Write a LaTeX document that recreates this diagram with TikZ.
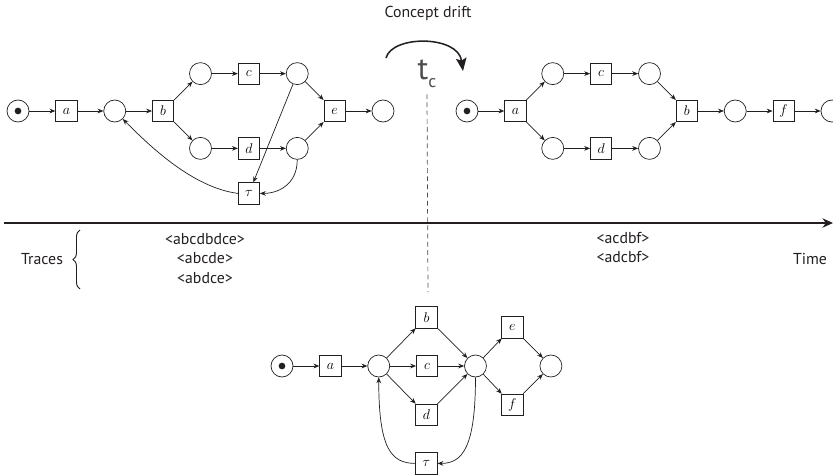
\documentclass[tikz,border=0pt]{standalone}
\usepackage{amsmath}
\usepackage{fontspec}
\newfontfamily\driftfont{PT Sans}
\usepackage{tikz}
\usetikzlibrary{arrows.meta}
\usetikzlibrary{positioning}
\usetikzlibrary{decorations.pathreplacing}

\definecolor{inkgray}{HTML}{231F20}
\definecolor{tcgray}{HTML}{4D4D4F}

\tikzset{
  place/.style={draw=inkgray,circle,minimum size=0.66cm,inner sep=0pt,line width=0.6pt},
  marked/.style={place,path picture={\fill[inkgray] (path picture bounding box.center) circle (0.1cm);}},
  trans/.style={draw=inkgray,rectangle,minimum size=0.64cm,inner sep=0pt,line width=0.6pt,font=\fontsize{12.5}{12.5}\selectfont},
  arc/.style={->,draw=inkgray,line width=0.6pt},
  caption/.style={text=inkgray,inner sep=0pt,font=\driftfont\fontsize{13.5}{17}\selectfont},
}

\begin{document}
\begin{tikzpicture} [x=0.03cm, y=-0.03cm, node distance=0.78cm, >={Stealth[length=5pt,width=4pt]}]
    \clip (0,0) rectangle (833,476);
    \useasboundingbox (0,0) rectangle (833,476);

    % net before the drift
    \node (lp0) [marked] at (18,111) {};
    \node (la) [trans, right = of lp0] {$a$};
    \node (lp1) [place, right = of la] {};
    \node (lb) [trans, right = of lp1] {$b$};
    \node (lp2) [place, above right = 0.55cm and 0.55cm of lb] {};
    \node (lc) [trans, right = of lp2] {$c$};
    \node (lp3) [place, right = of lc] {};
    \node (lp4) [place, below right = 0.55cm and 0.55cm of lb] {};
    \node (ld) [trans, right = of lp4] {$d$};
    \node (lp5) [place, right = of ld] {};
    \node (le) [trans, below right = 0.55cm and 0.55cm of lp3] {$e$};
    \node (lp6) [place, right = of le] {};
    \node (ltau) [trans, below = 0.69cm of ld] {$\tau$};

    \draw [arc] (lp0) -- (la);
    \draw [arc] (la) -- (lp1);
    \draw [arc] (lp1) -- (lb);
    \draw [arc] (lb) -- (lp2);
    \draw [arc] (lb) -- (lp4);
    \draw [arc] (lp2) -- (lc);
    \draw [arc] (lc) -- (lp3);
    \draw [arc] (lp4) -- (ld);
    \draw [arc] (ld) -- (lp5);
    \draw [arc] (lp3) -- (le);
    \draw [arc] (lp5) -- (le);
    \draw [arc] (le) -- (lp6);
    \draw [arc] (lp3) -- (ltau);
    \draw [arc] (lp5.south) .. controls +(0,25) and +(18,0) .. (ltau.east);
    \draw [arc] (ltau.west) .. controls +(-45,-6) and +(28,28) .. (lp1.south east);

    % net after the drift
    \node (rp0) [marked] at (467,111) {};
    \node (ra) [trans, right = of rp0] {$a$};
    \node (rp1) [place, above right = 0.55cm and 0.55cm of ra] {};
    \node (rc) [trans, right = of rp1] {$c$};
    \node (rp2) [place, right = of rc] {};
    \node (rp4) [place, below right = 0.55cm and 0.55cm of ra] {};
    \node (rd) [trans, right = of rp4] {$d$};
    \node (rp5) [place, right = of rd] {};
    \node (rb) [trans, below right = 0.55cm and 0.55cm of rp2] {$b$};
    \node (rp3) [place, right = of rb] {};
    \node (rf) [trans, right = of rp3] {$f$};
    \node (rp6) [place, right = of rf] {};

    \draw [arc] (rp0) -- (ra);
    \draw [arc] (ra) -- (rp1);
    \draw [arc] (ra) -- (rp4);
    \draw [arc] (rp1) -- (rc);
    \draw [arc] (rc) -- (rp2);
    \draw [arc] (rp4) -- (rd);
    \draw [arc] (rd) -- (rp5);
    \draw [arc] (rp2) -- (rb);
    \draw [arc] (rp5) -- (rb);
    \draw [arc] (rb) -- (rp3);
    \draw [arc] (rp3) -- (rf);
    \draw [arc] (rf) -- (rp6);

    % drift point and time line
    \node (drift) [caption] at (428,13) {Concept drift};
    \coordinate (drift-a) at (386,58);
    \coordinate (drift-b) at (463,71);
    \draw [line width=1.3pt, draw=inkgray, -{Stealth[length=11pt,width=9pt,inset=2pt]}]
      (drift-a) .. controls (392,35) and (458,35) .. (drift-b);
    \node (tc) [text=tcgray, inner sep=0pt, font=\driftfont] at (427,74)
      {\fontsize{27}{27}\selectfont t\raisebox{-7pt}{\fontsize{15}{15}\selectfont c}};
    \coordinate (tc-end) at (428,292);
    \draw [tcgray, line width=0.6pt, dash pattern=on 4pt off 3pt] (tc.south) ++(0,6) -- (tc-end);

    \coordinate (time-a) at (4,223);
    \coordinate (time-b) at (833,223);
    \draw [line width=1.3pt, draw=inkgray, -{Stealth[length=9pt,width=8pt]}] (time-a) -- (time-b);

    \node (traces) [caption] at (42,259) {Traces};
    \coordinate (brace-lo) at (80,289);
    \coordinate (brace-hi) at (80,230);
    \draw [inkgray, line width=0.8pt, decorate, decoration={brace, amplitude=6pt}] (brace-lo) -- (brace-hi);
    \node (old) [caption] at (205,260) {
      \begin{tabular}{c}
        <abcdbdce> \\
        <abcde> \\
        <abdce>
      \end{tabular}
    };
    \node (new) [caption] at (623,249) {
      \begin{tabular}{c}
        <acdbf> \\
        <adcbf>
      \end{tabular}
    };
    \node (time) [caption] at (810,259) {Time};

    % net over the whole log
    \node (bp0) [marked] at (282,366) {};
    \node (ba) [trans, right = of bp0] {$a$};
    \node (bp1) [place, right = of ba] {};
    \node (bb) [trans, above right = 0.89cm and 0.86cm of bp1] {$b$};
    \node (bc) [trans, right = of bp1] {$c$};
    \node (bd) [trans, below right = 0.89cm and 0.86cm of bp1] {$d$};
    \node (bp2) [place, right = of bc] {};
    \node (be) [trans, above right = 0.59cm and 0.53cm of bp2] {$e$};
    \node (bf) [trans, below right = 0.59cm and 0.53cm of bp2] {$f$};
    \node (bp3) [place, below right = 0.59cm and 0.59cm of be] {};
    \node (btau) [trans, below = 0.8cm of bd] {$\tau$};

    \draw [arc] (bp0) -- (ba);
    \draw [arc] (ba) -- (bp1);
    \draw [arc] (bp1) -- (bb);
    \draw [arc] (bp1) -- (bc);
    \draw [arc] (bp1) -- (bd);
    \draw [arc] (bb) -- (bp2);
    \draw [arc] (bc) -- (bp2);
    \draw [arc] (bd) -- (bp2);
    \draw [arc] (bp2) -- (be);
    \draw [arc] (bp2) -- (bf);
    \draw [arc] (be) -- (bp3);
    \draw [arc] (bf) -- (bp3);
    \draw [arc] (bp2.south) .. controls +(0,70) and +(25,0) .. (btau.east);
    \draw [arc] (btau.west) .. controls +(-25,0) and +(0,70) .. (bp1.south);
\end{tikzpicture}
\end{document}
